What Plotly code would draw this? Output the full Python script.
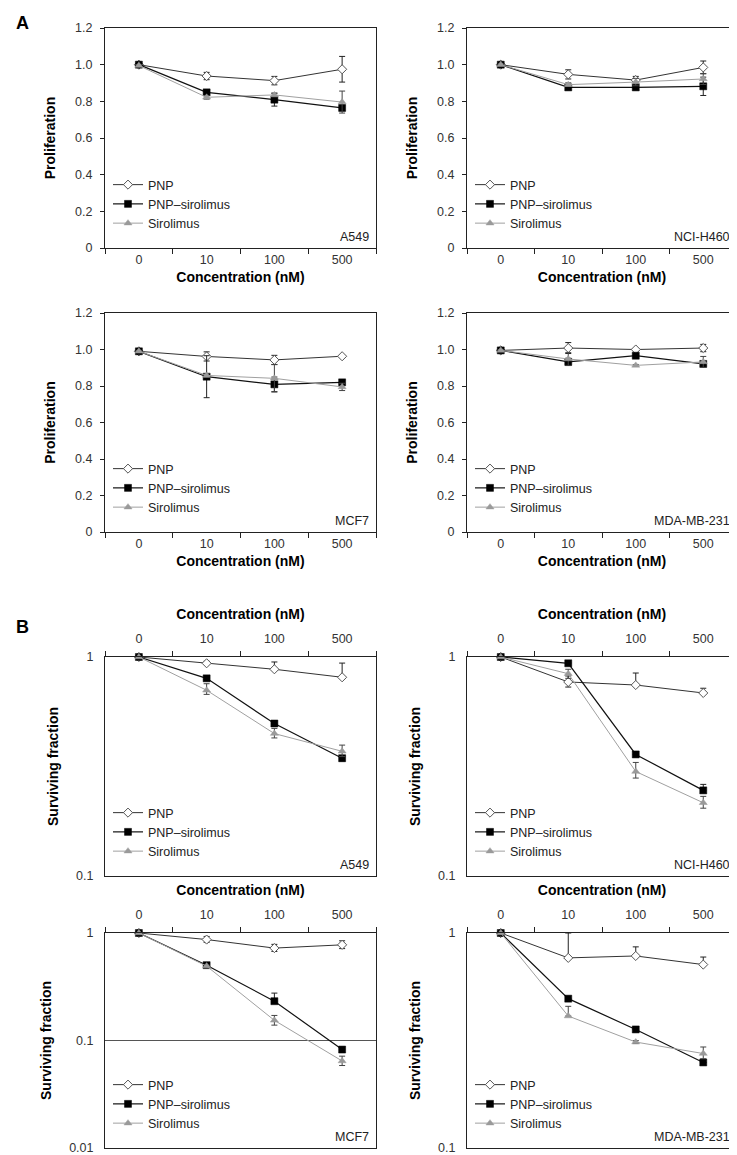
import plotly.graph_objects as go

# ---------------- data ----------------
categories = ["0", "10", "100", "500"]
series_names = ["PNP", "PNP\u2013sirolimus", "Sirolimus"]
cell_lines = ["A549", "NCI-H460", "MCF7", "MDA-MB-231"]

# Panel A: proliferation (mean, symmetric error)
a549_prolif_pnp = [1.00, 0.938, 0.913, 0.975]
a549_prolif_pnp_err = [0.005, 0.02, 0.023, 0.07]
a549_prolif_ps = [1.00, 0.849, 0.809, 0.764]
a549_prolif_ps_err = [0.005, 0.015, 0.035, 0.015]
a549_prolif_sir = [0.995, 0.822, 0.835, 0.796]
a549_prolif_sir_err = [0.005, 0.01, 0.01, 0.06]

h460_prolif_pnp = [1.00, 0.947, 0.916, 0.985]
h460_prolif_pnp_err = [0.005, 0.025, 0.02, 0.035]
h460_prolif_ps = [1.00, 0.876, 0.876, 0.882]
h460_prolif_ps_err = [0.005, 0.008, 0.008, 0.05]
h460_prolif_sir = [1.00, 0.891, 0.905, 0.922]
h460_prolif_sir_err = [0.005, 0.01, 0.02, 0.03]

mcf7_prolif_pnp = [0.99, 0.962, 0.943, 0.963]
mcf7_prolif_pnp_err = [0.005, 0.025, 0.025, 0.005]
mcf7_prolif_ps = [0.99, 0.851, 0.809, 0.82]
mcf7_prolif_ps_err = [0.005, 0.115, 0.04, 0.01]
mcf7_prolif_sir = [0.99, 0.858, 0.842, 0.795]
mcf7_prolif_sir_err = [0.005, 0.01, 0.075, 0.02]

mda_prolif_pnp = [0.995, 1.008, 1.00, 1.008]
mda_prolif_pnp_err = [0.005, 0.03, 0.005, 0.02]
mda_prolif_ps = [0.995, 0.932, 0.966, 0.921]
mda_prolif_ps_err = [0.005, 0.02, 0.01, 0.01]
mda_prolif_sir = [0.995, 0.948, 0.913, 0.932]
mda_prolif_sir_err = [0.005, 0.035, 0.005, 0.03]

# Panel B: surviving fraction (mean, upper error, lower error)
a549_surv_pnp = [1.0, 0.936, 0.879, 0.808]
a549_surv_pnp_up = [0.0, 0.02, 0.07, 0.13]
a549_surv_pnp_dn = [0.0, 0.0, 0.0, 0.0]
a549_surv_ps = [1.0, 0.799, 0.497, 0.345]
a549_surv_ps_up = [0.0, 0.01, 0.01, 0.01]
a549_surv_ps_dn = [0.0, 0.01, 0.01, 0.01]
a549_surv_sir = [1.0, 0.705, 0.447, 0.371]
a549_surv_sir_up = [0.0, 0.05, 0.025, 0.025]
a549_surv_sir_dn = [0.0, 0.03, 0.02, 0.02]

h460_surv_pnp = [1.0, 0.769, 0.745, 0.685]
h460_surv_pnp_up = [0.0, 0.05, 0.10, 0.035]
h460_surv_pnp_dn = [0.0, 0.04, 0.0, 0.0]
h460_surv_ps = [1.0, 0.936, 0.359, 0.246]
h460_surv_ps_up = [0.0, 0.01, 0.01, 0.016]
h460_surv_ps_dn = [0.0, 0.0, 0.0, 0.0]
h460_surv_sir = [1.0, 0.839, 0.300, 0.216]
h460_surv_sir_up = [0.0, 0.04, 0.03, 0.015]
h460_surv_sir_dn = [0.0, 0.04, 0.02, 0.012]

mcf7_surv_pnp = [1.0, 0.869, 0.724, 0.776]
mcf7_surv_pnp_up = [0.0, 0.06, 0.06, 0.07]
mcf7_surv_pnp_dn = [0.0, 0.05, 0.05, 0.06]
mcf7_surv_ps = [1.0, 0.502, 0.232, 0.0824]
mcf7_surv_ps_up = [0.0, 0.01, 0.044, 0.003]
mcf7_surv_ps_dn = [0.0, 0.0, 0.0, 0.0]
mcf7_surv_sir = [1.0, 0.492, 0.154, 0.0645]
mcf7_surv_sir_up = [0.0, 0.01, 0.017, 0.007]
mcf7_surv_sir_dn = [0.0, 0.01, 0.015, 0.006]

mda_surv_pnp = [1.0, 0.766, 0.782, 0.713]
mda_surv_pnp_up = [0.0, 0.234, 0.08, 0.06]
mda_surv_pnp_dn = [0.0, 0.0, 0.0, 0.0]
mda_surv_ps = [1.0, 0.495, 0.356, 0.250]
mda_surv_ps_up = [0.0, 0.0, 0.0, 0.0]
mda_surv_ps_dn = [0.0, 0.0, 0.0, 0.0]
mda_surv_sir = [1.0, 0.411, 0.311, 0.275]
mda_surv_sir_up = [0.0, 0.045, 0.005, 0.02]
mda_surv_sir_dn = [0.0, 0.0, 0.005, 0.015]

prolif_yticks = [0, 0.2, 0.4, 0.6, 0.8, 1.0, 1.2]
prolif_yticktext = ["0", "0.2", "0.4", "0.6", "0.8", "1.0", "1.2"]
surv_yticks = [0.01, 0.1, 1]
surv_yticktext = ["0.01", "0.1", "1"]

# ---------------- layout helpers ----------------
W, H = 737, 1155
FONT = "Liberation Sans, Arial, sans-serif"

def px_x(p):
    return p / W

def px_y(p):
    return 1 - p / H

# plot-area boxes in pixels: (left, right, top, bottom)
boxes = [
    (97, 368, 20, 240), (459, 729, 20, 240),
    (97, 368, 305, 524), (459, 729, 305, 524),
    (97, 368, 649, 868), (459, 729, 649, 868),
    (97, 368, 925, 1140), (459, 729, 925, 1140),
]

prolif_sets = [
    (a549_prolif_pnp, a549_prolif_pnp_err, a549_prolif_ps, a549_prolif_ps_err, a549_prolif_sir, a549_prolif_sir_err),
    (h460_prolif_pnp, h460_prolif_pnp_err, h460_prolif_ps, h460_prolif_ps_err, h460_prolif_sir, h460_prolif_sir_err),
    (mcf7_prolif_pnp, mcf7_prolif_pnp_err, mcf7_prolif_ps, mcf7_prolif_ps_err, mcf7_prolif_sir, mcf7_prolif_sir_err),
    (mda_prolif_pnp, mda_prolif_pnp_err, mda_prolif_ps, mda_prolif_ps_err, mda_prolif_sir, mda_prolif_sir_err),
]
surv_sets = [
    ((a549_surv_pnp, a549_surv_pnp_up, a549_surv_pnp_dn), (a549_surv_ps, a549_surv_ps_up, a549_surv_ps_dn), (a549_surv_sir, a549_surv_sir_up, a549_surv_sir_dn)),
    ((h460_surv_pnp, h460_surv_pnp_up, h460_surv_pnp_dn), (h460_surv_ps, h460_surv_ps_up, h460_surv_ps_dn), (h460_surv_sir, h460_surv_sir_up, h460_surv_sir_dn)),
    ((mcf7_surv_pnp, mcf7_surv_pnp_up, mcf7_surv_pnp_dn), (mcf7_surv_ps, mcf7_surv_ps_up, mcf7_surv_ps_dn), (mcf7_surv_sir, mcf7_surv_sir_up, mcf7_surv_sir_dn)),
    ((mda_surv_pnp, mda_surv_pnp_up, mda_surv_pnp_dn), (mda_surv_ps, mda_surv_ps_up, mda_surv_ps_dn), (mda_surv_sir, mda_surv_sir_up, mda_surv_sir_dn)),
]

styles = [
    dict(line=dict(color="#333333", width=1),
         marker=dict(symbol="diamond", size=7, color="white", line=dict(color="#555555", width=1))),
    dict(line=dict(color="#111111", width=1.2),
         marker=dict(symbol="square", size=7, color="black", line=dict(color="black", width=0.5))),
    dict(line=dict(color="#a0a0a0", width=1),
         marker=dict(symbol="triangle-up", size=7, color="#9a9a9a", line=dict(color="#9a9a9a", width=0.5))),
]
err_colors = ["#222222", "#222222", "#444444"]

fig = go.Figure()
layout = {}

for i in range(8):
    n = i + 1
    xa = "x" if n == 1 else f"x{n}"
    ya = "y" if n == 1 else f"y{n}"
    lg = "legend" if n == 1 else f"legend{n}"
    cell = cell_lines[i % 4]
    is_b = i >= 4

    for s in range(3):
        if not is_b:
            vals = prolif_sets[i][2 * s]
            errs = prolif_sets[i][2 * s + 1]
            err = dict(type="data", array=errs, symmetric=True, color=err_colors[s],
                       thickness=1, width=3)
        else:
            vals, up, dn = surv_sets[i - 4][s]
            err = dict(type="data", array=up, arrayminus=dn, symmetric=False,
                       color=err_colors[s], thickness=1, width=3)
        fig.add_trace(go.Scatter(
            x=categories, y=vals, mode="lines+markers", name=series_names[s],
            line=styles[s]["line"], marker=styles[s]["marker"], error_y=err,
            xaxis=xa, yaxis=ya, legend=lg, showlegend=True, cliponaxis=False,
        ))

    L, R, T, B = boxes[i]
    xkey = "xaxis" if n == 1 else f"xaxis{n}"
    ykey = "yaxis" if n == 1 else f"yaxis{n}"
    layout[xkey] = dict(
        domain=[px_x(L), px_x(R)], anchor=ya, type="category",
        categoryorder="array", categoryarray=categories, range=[-0.5, 3.5],
        tickson="boundaries", ticks="outside", ticklen=5, tickwidth=1, tickcolor="#222",
        showline=True, linecolor="#222", linewidth=1, mirror=True, showgrid=False,
        side="top" if is_b else "bottom",
        ticklabelstandoff=8 if is_b else 0,
        tickfont=dict(family=FONT, size=12.5, color="#333"),
        title=dict(text="<b>Concentration (nM)</b>", font=dict(family=FONT, size=14, color="black"),
                   standoff=9 if is_b else 6),
        automargin=False, fixedrange=True,
    )
    if not is_b:
        layout[ykey] = dict(
            domain=[px_y(B), px_y(T)], anchor=xa, range=[0, 1.2],
            tickvals=prolif_yticks, ticktext=prolif_yticktext,
            ticks="outside", ticklen=4, tickcolor="#222", showgrid=False, zeroline=False,
            showline=True, linecolor="#222", linewidth=1, mirror=True,
            ticklabelstandoff=5,
            tickfont=dict(family=FONT, size=12.5, color="#333"),
            title=dict(text="<b>Proliferation</b>", font=dict(family=FONT, size=14, color="black"),
                       standoff=16),
            automargin=False, fixedrange=True,
        )
    else:
        lo = -2 if cell == "MCF7" else -1
        layout[ykey] = dict(
            domain=[px_y(B), px_y(T)], anchor=xa, type="log", range=[lo, 0],
            tickvals=surv_yticks, ticktext=surv_yticktext,
            ticks="", showgrid=True, gridcolor="#555", gridwidth=1, zeroline=False,
            showline=True, linecolor="#222", linewidth=1, mirror=True,
            ticklabelstandoff=8,
            tickfont=dict(family=FONT, size=12.5, color="#333"),
            title=dict(text="<b>Surviving fraction</b>", font=dict(family=FONT, size=14, color="black"),
                       standoff=14),
            automargin=False, fixedrange=True,
        )
    layout[lg] = dict(
        x=px_x(L + 3), y=px_y(B - 10), xanchor="left", yanchor="bottom",
        bgcolor="rgba(0,0,0,0)", borderwidth=0, itemwidth=30, tracegroupgap=0,
        font=dict(family=FONT, size=12.5, color="#222"),
    )

annotations = []
for i in range(8):
    n = i + 1
    xa = "x" if n == 1 else f"x{n}"
    ya = "y" if n == 1 else f"y{n}"
    annotations.append(dict(
        text=cell_lines[i % 4], xref=f"{xa} domain", yref=f"{ya} domain", x=1, y=0,
        xanchor="right", yanchor="bottom", xshift=-5, yshift=2, showarrow=False,
        font=dict(family=FONT, size=12.5, color="#222"),
    ))
annotations.append(dict(text="<b>A</b>", xref="paper", yref="paper", x=px_x(14), y=px_y(15),
                        xanchor="center", yanchor="middle", showarrow=False,
                        font=dict(family=FONT, size=18, color="black")))
annotations.append(dict(text="<b>B</b>", xref="paper", yref="paper", x=px_x(14), y=px_y(619),
                        xanchor="center", yanchor="middle", showarrow=False,
                        font=dict(family=FONT, size=18, color="black")))

fig.update_layout(
    width=W, height=H, margin=dict(l=0, r=0, t=0, b=0),
    paper_bgcolor="white", plot_bgcolor="white",
    font=dict(family=FONT, size=12, color="#222"),
    annotations=annotations, **layout,
)

fig.write_html("out.html")
